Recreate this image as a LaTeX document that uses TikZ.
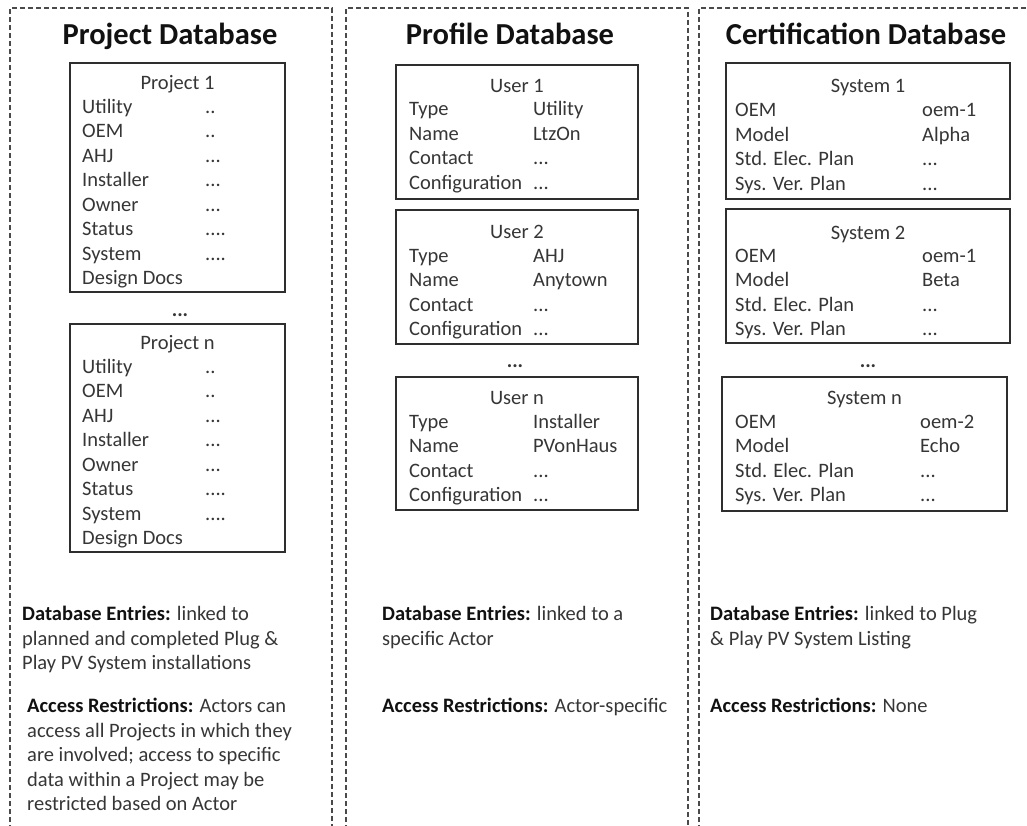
\documentclass[tikz,border=0pt]{standalone}
\usepackage{fontspec}
\setmainfont{Carlito}
\usetikzlibrary{shadows}

\definecolor{ink}{HTML}{111111}
\definecolor{bodyink}{HTML}{363636}
\definecolor{boxline}{HTML}{2E2E2E}
\definecolor{panelline}{HTML}{4A4A4A}

\tikzset{
  panel/.style={draw=panelline, line width=1.3pt, dash pattern=on 5pt off 3pt},
  dbtitle/.style={font=\fontsize{30.5}{36}\selectfont\bfseries, text=ink, inner sep=0pt, anchor=mid, yshift=-6pt},
  recbox/.style={draw=boxline, line width=1.3pt, fill=white, inner sep=0pt,
    drop shadow={shadow xshift=1.3pt, shadow yshift=-1.3pt, opacity=0.3}},
  rowtxt/.style={font=\fontsize{20.5}{24.5}\selectfont, text=bodyink, inner sep=0pt, anchor=mid west, yshift=-3pt},
  rectitle/.style={rowtxt, anchor=mid},
  gapdots/.style={font=\fontsize{20.5}{24.5}\selectfont\bfseries, text=bodyink, inner sep=0pt, anchor=base, yshift=-3pt},
  note/.style={font=\fontsize{20.5}{24.5}\selectfont, text=bodyink, inner sep=0pt, anchor=mid west, yshift=-3.5pt},
}

% placeholder values (kept out of \foreach lists, where ... means a range)
\newcommand{\dtwo}{..}
\newcommand{\dthree}{...}
\newcommand{\dfour}{....}

% column positions of the field names and field values
\newcommand{\labx}{0}
\newcommand{\valx}{0}

% #1 name, #2/#3 left/right, #4/#5 top/bottom, #6 heading,
% #7 heading y, #8 first row y, #9 rows as field/value
\newcommand{\DBrecord}[9]{%
  \node[recbox, minimum width={(#3-#2)*1pt}, minimum height={(#5-#4)*1pt}]
    (#1) at ({(#2+#3)/2},{(#4+#5)/2}) {};
  \node[rectitle] (#1-t) at ({(#2+#3)/2},#7) {#6};
  \foreach \lab/\val [count=\i from 0] in {#9} {
    \node[rowtxt] (#1-l\i) at (\labx,{#8+24.5*\i}) {\lab};
    \ifx\val\empty\else
      \node[rowtxt] (#1-v\i) at (\valx,{#8+24.5*\i}) {\val};
    \fi
  }%
}

\begin{document}
\begin{tikzpicture}[x=1pt, y=-1pt]
\useasboundingbox (0,0) rectangle (1027,826);

% dashed panels, open at the bottom
\draw[panel] (10,830) -- (10,8) -- (332,8) -- (332,830);
\draw[panel] (346,830) -- (346,8) -- (688,8) -- (688,830);
\draw[panel] (699,830) -- (699,8) -- (1032,8);

% headings
\node[dbtitle] (projdb) at (170,36) {Project Database};
\node[dbtitle] (profdb) at (510,36) {Profile Database};
\node[dbtitle] (certdb) at (866,36) {Certification Database};

% project records
\renewcommand{\labx}{82}\renewcommand{\valx}{205}
\DBrecord{proj1}{70}{285}{63}{292}{Project 1}{84}{108}
  {Utility/\dtwo, OEM/\dtwo, AHJ/\dthree, Installer/\dthree, Owner/\dthree, Status/\dfour, System/\dfour, Design Docs/}
\node[gapdots] (projgap) at (180,313.5) {\dthree};
\DBrecord{projn}{70}{285}{324}{552}{Project n}{344}{368}
  {Utility/\dtwo, OEM/\dtwo, AHJ/\dthree, Installer/\dthree, Owner/\dthree, Status/\dfour, System/\dfour, Design Docs/}

% user profiles
\renewcommand{\labx}{409}\renewcommand{\valx}{533}
\DBrecord{user1}{396}{638}{65}{199}{User 1}{87}{110.5}
  {Type/Utility, Name/LtzOn, Contact/\dthree, Configuration/\dthree}
\DBrecord{user2}{396}{638}{210}{344}{User 2}{233}{257}
  {Type/AHJ, Name/Anytown, Contact/\dthree, Configuration/\dthree}
\node[gapdots] (usergap) at (515,364) {\dthree};
\DBrecord{usern}{396}{638}{377}{510}{User n}{399}{423}
  {Type/Installer, Name/PVonHaus, Contact/\dthree, Configuration/\dthree}

% certified systems
\renewcommand{\labx}{735}\renewcommand{\valx}{922}
\DBrecord{sys1}{726}{1010}{63}{199}{System 1}{87}{111.5}
  {OEM/oem-1, Model/Alpha, Std. Elec. Plan/\dthree, Sys. Ver. Plan/\dthree}
\DBrecord{sys2}{726}{1010}{209}{343}{System 2}{234}{257}
  {OEM/oem-1, Model/Beta, Std. Elec. Plan/\dthree, Sys. Ver. Plan/\dthree}
\node[gapdots] (sysgap) at (868,364) {\dthree};
\renewcommand{\valx}{920}
\DBrecord{sysn}{722}{1007}{377}{511}{System n}{399}{423}
  {OEM/oem-2, Model/Echo, Std. Elec. Plan/\dthree, Sys. Ver. Plan/\dthree}

% notes below the project records
\node[note] (pn1) at (22,615) {\textcolor{ink}{\bfseries Database Entries:} linked to};
\node[note] (pn2) at (22,640) {planned and completed Plug \&};
\node[note] (pn3) at (22,664) {Play PV System installations};
\node[note] (pa1) at (27,707) {\textcolor{ink}{\bfseries Access Restrictions:} Actors can};
\node[note] (pa2) at (27,731.5) {access all Projects in which they};
\node[note] (pa3) at (27,756) {are involved; access to specific};
\node[note] (pa4) at (27,780.5) {data within a Project may be};
\node[note] (pa5) at (27,805) {restricted based on Actor};

% notes below the user profiles
\node[note] (un1) at (382,615) {\textcolor{ink}{\bfseries Database Entries:} linked to a};
\node[note] (un2) at (382,639.5) {specific Actor};
\node[note] (ua1) at (382,707) {\textcolor{ink}{\bfseries Access Restrictions:} Actor-specific};

% notes below the certified systems
\node[note] (sn1) at (710,615) {\textcolor{ink}{\bfseries Database Entries:} linked to Plug};
\node[note] (sn2) at (710,639.5) {\& Play PV System Listing};
\node[note] (sa1) at (710,707) {\textcolor{ink}{\bfseries Access Restrictions:} None};
\end{tikzpicture}
\end{document}
